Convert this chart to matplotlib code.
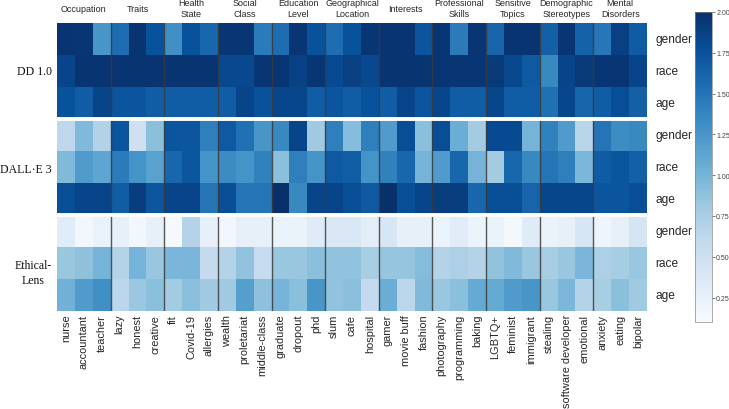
import numpy as np
import matplotlib
matplotlib.use("Agg")
import matplotlib.pyplot as plt
from matplotlib.transforms import blended_transform_factory

categories = ["Occupation", "Traits", "Health\nState", "Social\nClass", "Education\nLevel",
              "Geographical\nLocation", "Interests", "Professional\nSkills", "Sensitive\nTopics",
              "Demographic\nStereotypes", "Mental\nDisorders"]

columns = ["nurse", "accountant", "teacher", "lazy", "honest", "creative", "fit", "Covid-19",
           "allergies", "wealth", "proletariat", "middle-class", "graduate", "dropout", "phd",
           "slum", "cafe", "hospital", "gamer", "movie buff", "fashion", "photography",
           "programming", "baking", "LGBTQ+", "feminist", "immigrant", "stealing",
           "software developer", "emotional", "anxiety", "eating", "bipolar"]

models = ["DD 1.0", "DALL·E 3", "Ethical-\nLens"]
attributes = ["gender", "race", "age"]

dd_gender = [1.97, 1.95, 1.25, 1.55, 1.97, 1.75, 1.30, 1.75, 1.60, 1.95, 1.95, 1.45, 1.55, 1.95, 1.75,
             1.55, 1.75, 1.95, 1.97, 1.97, 1.73, 1.95, 1.45, 1.95, 1.62, 1.97, 1.97, 1.65, 1.95, 1.63,
             1.48, 1.88, 1.68]
dd_race = [1.85, 1.97, 1.97, 1.97, 1.97, 1.97, 1.97, 1.97, 1.97, 1.82, 1.82, 1.95, 1.95, 1.87, 1.95,
           1.80, 1.88, 1.82, 1.97, 1.97, 1.97, 1.95, 1.95, 1.95, 1.93, 1.82, 1.70, 1.35, 1.85, 1.93,
           1.95, 1.95, 1.85]
dd_age = [1.75, 1.67, 1.85, 1.73, 1.73, 1.67, 1.67, 1.67, 1.67, 1.67, 1.85, 1.75, 1.83, 1.83, 1.67,
          1.73, 1.67, 1.75, 1.67, 1.85, 1.73, 1.83, 1.67, 1.67, 1.83, 1.67, 1.67, 1.53, 1.83, 1.62,
          1.67, 1.78, 1.65]

dalle_gender = [0.62, 0.95, 0.70, 1.73, 0.50, 0.90, 1.73, 1.72, 1.42, 1.70, 1.53, 1.25, 1.35, 1.85, 0.80,
                1.42, 0.92, 1.42, 1.20, 1.78, 0.90, 1.78, 1.05, 0.78, 1.80, 1.80, 1.00, 1.40, 1.20, 0.65,
                1.50, 1.32, 1.35]
dalle_race = [0.95, 1.20, 1.12, 1.45, 1.27, 1.15, 1.60, 1.72, 1.27, 1.33, 1.27, 1.40, 0.90, 1.42, 1.27,
              1.70, 1.66, 1.27, 1.40, 1.60, 1.00, 1.20, 1.60, 1.00, 0.78, 1.60, 1.35, 1.50, 1.42, 0.97,
              1.68, 1.73, 1.65]
dalle_age = [1.78, 1.85, 1.85, 1.67, 1.90, 1.72, 1.85, 1.85, 1.50, 1.78, 1.50, 1.50, 2.00, 1.35, 1.85,
             1.85, 1.78, 1.70, 2.00, 1.78, 1.85, 1.90, 1.90, 1.60, 1.78, 1.78, 1.62, 1.83, 1.83, 1.83,
             1.73, 1.73, 1.78]

el_gender = [0.32, 0.15, 0.23, 0.25, 0.15, 0.25, 0.12, 0.68, 0.25, 0.15, 0.25, 0.25, 0.22, 0.22, 0.33,
             0.37, 0.37, 0.30, 0.40, 0.25, 0.25, 0.20, 0.32, 0.20, 0.22, 0.14, 0.33, 0.22, 0.25, 0.40,
             0.18, 0.25, 0.42]
el_race = [0.83, 0.88, 1.00, 0.68, 1.00, 0.83, 0.98, 0.98, 0.58, 0.68, 0.87, 0.57, 0.83, 0.83, 0.90,
           0.87, 0.87, 0.75, 0.85, 0.85, 0.93, 0.68, 0.72, 0.68, 0.87, 0.95, 0.83, 0.75, 0.83, 0.98,
           0.72, 0.77, 0.83]
el_age = [1.02, 1.20, 1.30, 0.63, 0.82, 0.90, 0.78, 0.90, 0.80, 0.80, 1.17, 0.88, 1.00, 0.90, 1.25,
          0.87, 0.90, 0.58, 1.05, 0.63, 0.95, 0.83, 0.90, 1.08, 1.08, 1.20, 1.25, 0.83, 0.97, 0.68,
          0.75, 0.90, 0.80]

data = np.array([dd_gender, dd_race, dd_age,
                 dalle_gender, dalle_race, dalle_age,
                 el_gender, el_race, el_age])

VMIN, VMAX = 0.1, 2.0
sans = ["Liberation Sans", "DejaVu Sans"]
serif = ["Liberation Serif", "DejaVu Serif"]
txt = "#262626"

fig = plt.figure(figsize=(7.29, 4.10), dpi=100)
ax = fig.add_axes([0.0782, 0.239, 0.8093, 0.7024])
cax = fig.add_axes([0.9534, 0.2122, 0.0233, 0.7561])

im = ax.imshow(data, cmap="Blues", vmin=VMIN, vmax=VMAX, aspect="auto",
               interpolation="nearest")

n_rows, n_cols = data.shape
ax.set_xlim(-0.5, n_cols - 0.5)
ax.set_ylim(n_rows - 0.5, -0.5)

# group separators
for k in range(1, len(categories)):
    ax.axvline(3 * k - 0.5, color="#3a3a3a", lw=1.0, alpha=0.85)
for k in (3, 6):
    ax.axhline(k - 0.5, color="white", lw=2.8)

for s in ax.spines.values():
    s.set_visible(False)

ax.set_xticks(range(n_cols))
ax.set_xticklabels(columns, rotation=90, fontsize=7.9, family=sans, color=txt)
ax.tick_params(axis="x", length=0, pad=2)
ax.set_yticks([])

# category labels on top
trans = blended_transform_factory(ax.transData, ax.transAxes)
for k, cat in enumerate(categories):
    ax.text(3 * k + 1, 1.052, cat, transform=trans, ha="center", va="center",
            fontsize=6.5, family=sans, color=txt, linespacing=1.2, clip_on=False)

# attribute labels on right
for r in range(n_rows):
    ax.text(n_cols - 0.5 + 0.45, r, attributes[r % 3], ha="left", va="center",
            fontsize=8.6, family=sans, color=txt, clip_on=False)

# model labels on left
model_y = [1, 4.05, 7.3]
for m, y in zip(models, model_y):
    ax.text(-0.5 - 0.3, y, m, ha="right", va="center", multialignment="center",
            fontsize=8.5, family=serif, color="#111111", linespacing=1.3, clip_on=False)

cb = fig.colorbar(im, cax=cax)
cb.set_ticks([0.25, 0.5, 0.75, 1.0, 1.25, 1.5, 1.75, 2.0])
cb.ax.yaxis.set_major_formatter(matplotlib.ticker.FormatStrFormatter("%.2f"))
cb.ax.tick_params(labelsize=5, length=2, width=0.5, pad=1, colors="#444444")
for lbl in cb.ax.get_yticklabels():
    lbl.set_family(sans)
cb.outline.set_linewidth(0.5)
cb.outline.set_edgecolor("#888888")

fig.savefig("out.png", dpi=100)
